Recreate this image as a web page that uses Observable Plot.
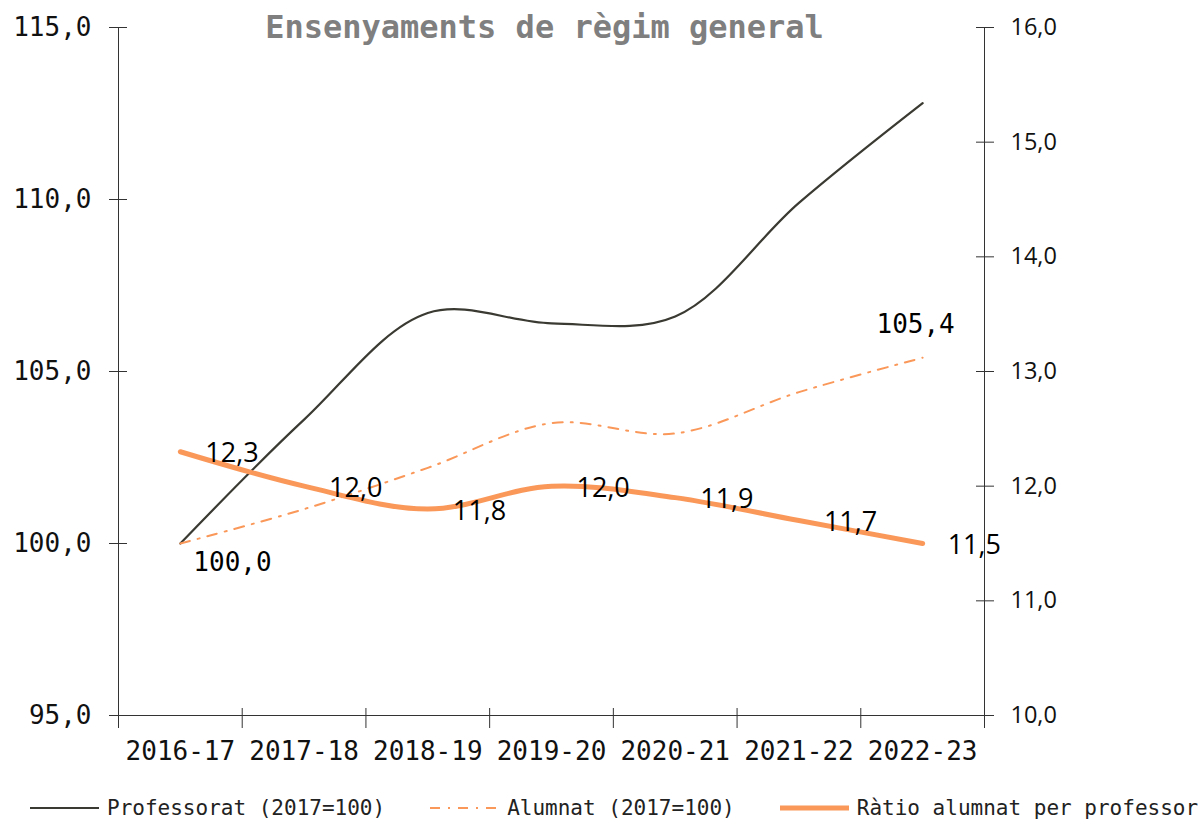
<!DOCTYPE html>
<html>
<head>
<meta charset="utf-8">
<script src="https://cdn.jsdelivr.net/npm/d3@7"></script>
<script src="https://cdn.jsdelivr.net/npm/@observablehq/plot@0.6"></script>
<style>
  html, body { margin: 0; padding: 0; background: #fff; overflow: hidden; }
  #chart svg { display: block; }
  #legend { height: 31px; padding-top: 12px; display: flex; align-items: center; padding-left: 30px;
    font-family: "DejaVu Sans Mono", monospace; font-size: 21px; color: #222; white-space: nowrap; }
  .item { display: flex; align-items: center; margin-right: 45px; }
  .item svg { margin-right: 8px; }
</style>
</head>
<body>
<div id="chart"></div>
<div id="legend"></div>
<script>
const title = "Ensenyaments de règim general";
const years = ["2016-17", "2017-18", "2018-19", "2019-20", "2020-21", "2021-22", "2022-23"];
const professorat = [100.0, 103.6, 106.7, 106.4, 106.6, 109.9, 112.8];
const alumnat = [100.0, 101.0, 102.2, 103.5, 103.2, 104.4, 105.4];
const ratio = [12.3, 12.0, 11.8, 12.0, 11.9, 11.7, 11.5];
const leftTicks = [95, 100, 105, 110, 115];
const rightTicks = [10, 11, 12, 13, 14, 15, 16];
const seriesNames = ["Professorat (2017=100)", "Alumnat (2017=100)", "Ràtio alumnat per professor"];

const COL_PROF = "#3b3a32";
const COL_ORANGE = "#fa985a";
const MONO = "DejaVu Sans Mono, monospace";
const SANS = "Open Sans, Noto Sans, sans-serif";

// map right axis (ratio) onto left scale
const yMin = 95, yMax = 115, rMin = 10, rMax = 16;
const r2y = r => yMin + (r - rMin) * (yMax - yMin) / (rMax - rMin);
const fmt = v => v.toFixed(1).replace(".", ",");
const blank = () => "";

const idx = years.map((_, i) => i);
const bounds = d3.range(-0.5, years.length, 1);
const profData = idx.map(i => ({x: i, y: professorat[i]}));
const alumData = idx.map(i => ({x: i, y: alumnat[i]}));
const ratioData = idx.map(i => ({x: i, y: r2y(ratio[i]), v: ratio[i]}));
const alumFirst = [alumData[0]];
const alumLast = [alumData[alumData.length - 1]];

const plot = Plot.plot({
  width: 1202,
  height: 780,
  marginLeft: 118,
  marginRight: 218,
  marginTop: 27,
  marginBottom: 65,
  x: {type: "linear", domain: [-0.5, years.length - 0.5]},
  y: {type: "linear", domain: [yMin, yMax]},
  marks: [
    // axis lines
    Plot.ruleX([bounds[0], bounds[bounds.length - 1]], {stroke: "#333", strokeWidth: 1}),
    Plot.ruleY([yMin], {stroke: "#333", strokeWidth: 1}),
    // x axis ticks at band boundaries
    Plot.axisX({ticks: bounds, tickFormat: blank, tickSize: 20, dy: -7, stroke: "#333", label: null}),
    Plot.axisX({ticks: idx, tickFormat: i => years[i], tickSize: 0, tickPadding: 26,
      fontSize: 26, fontFamily: MONO, fill: "#111", label: null}),
    // left axis
    Plot.axisY({ticks: leftTicks, tickFormat: blank, tickSize: 18, dx: 9, stroke: "#333", label: null}),
    Plot.axisY({ticks: leftTicks, tickFormat: fmt, tickSize: 0, tickPadding: 27,
      fontSize: 26, fontFamily: MONO, fill: "#111", label: null}),
    // right axis
    Plot.axisY({anchor: "right", ticks: rightTicks.map(r2y), tickFormat: blank, tickSize: 18, dx: -9, stroke: "#333", label: null}),
    Plot.axisY({anchor: "right", ticks: rightTicks.map(r2y), tickFormat: (d, i) => fmt(rightTicks[i]),
      tickSize: 0, tickPadding: 26, fontSize: 23.5, fontFamily: SANS, fill: "#111", label: null}),
    // series
    Plot.line(profData, {x: "x", y: "y", curve: "catmull-rom", stroke: COL_PROF, strokeWidth: 2.2}),
    Plot.line(alumData, {x: "x", y: "y", curve: "catmull-rom", stroke: COL_ORANGE, strokeWidth: 2,
      strokeDasharray: "10,8,2,8"}),
    Plot.line(ratioData, {x: "x", y: "y", curve: "catmull-rom", stroke: COL_ORANGE, strokeWidth: 5,
      strokeLinecap: "round"}),
    // labels
    Plot.text(ratioData, {x: "x", y: "y", text: d => fmt(d.v), textAnchor: "start", dx: 25, dy: 2,
      fontSize: 27, fontFamily: SANS, fill: "#000"}),
    Plot.text(alumFirst, {x: "x", y: "y", text: d => fmt(d.y), textAnchor: "start", dx: 13, dy: 19,
      fontSize: 26, fontFamily: MONO, fill: "#000"}),
    Plot.text(alumLast, {x: "x", y: "y", text: d => fmt(d.y), textAnchor: "middle", dx: -7, dy: -33,
      fontSize: 26, fontFamily: MONO, fill: "#000"}),
    // title
    Plot.text([title], {frameAnchor: "top", dx: -7, dy: -12, text: d => d, fontSize: 32, fontWeight: "bold",
      fontFamily: MONO, fill: "#7f7f7f"})
  ]
});
document.getElementById("chart").appendChild(plot);

// legend
const legend = document.getElementById("legend");
const styles = [
  {stroke: COL_PROF, width: 2.2, dash: ""},
  {stroke: COL_ORANGE, width: 2, dash: "10,8,2,8"},
  {stroke: COL_ORANGE, width: 5, dash: ""}
];
seriesNames.forEach((name, i) => {
  const s = styles[i];
  const item = document.createElement("div");
  item.className = "item";
  item.innerHTML = `<svg width="69" height="10"><line x1="0" x2="69" y1="5" y2="5" stroke="${s.stroke}" stroke-width="${s.width}" ${s.dash ? `stroke-dasharray="${s.dash}"` : ""} ${i === 2 ? 'stroke-linecap="round"' : ""}/></svg><span>${name}</span>`;
  legend.appendChild(item);
});
</script>
</body>
</html>
